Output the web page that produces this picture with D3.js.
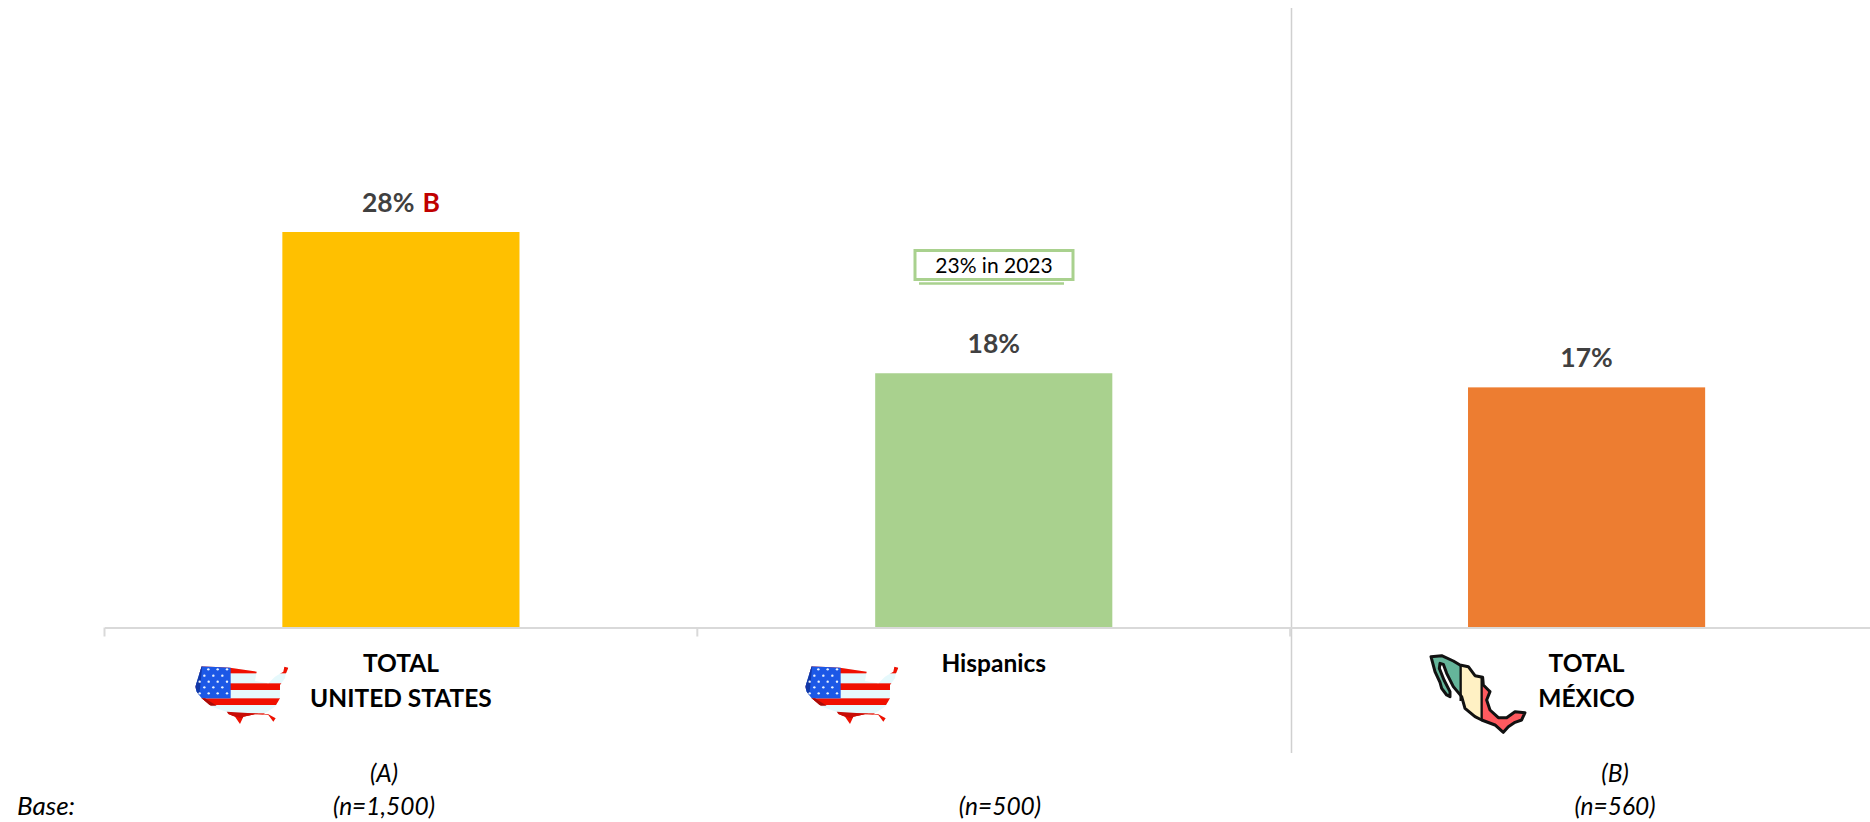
<!DOCTYPE html>
<html>
<head>
<meta charset="utf-8">
<script src="https://cdn.jsdelivr.net/npm/d3@7/dist/d3.min.js"></script>
<style>
  html, body { margin: 0; padding: 0; background: #fff; overflow: hidden; }
  svg { display: block; font-family: Lato, "Open Sans", sans-serif; }
</style>
</head>
<body>
<svg id="chart" width="1870" height="822"></svg>
<script>
// Share of respondents per group
const categories = ["us", "hispanics", "mexico"];
const values = [28, 18, 17];
const barColors = ["#ffc000", "#a9d18e", "#ed7d31"];
const categoryLines = [["TOTAL", "UNITED STATES"], ["Hispanics"], ["TOTAL", "MÉXICO"]];
const sigLetters = ["B", "", ""];
const groupLetters = ["(A)", "", "(B)"];
const baseSizes = ["(n=1,500)", "(n=500)", "(n=560)"];
const baseLabel = "Base:";
const priorNote = "23% in 2023";

const svg = d3.select("#chart");
const baseline = 627.5;

const x = d3.scaleBand().domain(categories).range([104.5, 1883]).paddingInner(0.6).paddingOuter(0.3);
const y = d3.scaleLinear().domain([0, 28]).range([baseline, 232]);
const center = c => x(c) + x.bandwidth() / 2;

// Column divider between the US groups and Mexico
svg.append("line")
  .attr("x1", 1291.5).attr("x2", 1291.5).attr("y1", 8).attr("y2", 753)
  .attr("stroke", "#d0d0d0").attr("stroke-width", 1.5);

// Bars
svg.selectAll("rect.bar").data(categories).join("rect")
  .attr("class", "bar")
  .attr("x", d => x(d))
  .attr("width", x.bandwidth())
  .attr("y", (d, i) => y(values[i]))
  .attr("height", (d, i) => baseline - y(values[i]))
  .attr("fill", (d, i) => barColors[i]);

// Category axis: line plus ticks on the band boundaries
const axis = svg.append("g").attr("transform", `translate(0,${baseline})`)
  .call(d3.axisBottom(x).tickSize(0).tickFormat(""));
axis.select(".domain").attr("stroke", "#d9d9d9").attr("stroke-width", 2);
axis.selectAll(".tick line").remove();
axis.selectAll("line.edge").data(categories).join("line")
  .attr("class", "edge")
  .attr("x1", d => x(d) - x.step() * 0.3).attr("x2", d => x(d) - x.step() * 0.3)
  .attr("y1", 0).attr("y2", 9)
  .attr("stroke", "#d9d9d9").attr("stroke-width", 2);

// Value labels with the significance letter
const valueLabels = svg.selectAll("text.value").data(categories).join("text")
  .attr("class", "value")
  .attr("x", d => center(d))
  .attr("y", (d, i) => y(values[i]) - 20)
  .attr("text-anchor", "middle")
  .attr("font-size", 26.5).attr("font-weight", 700).attr("fill", "#404040");
valueLabels.append("tspan").text((d, i) => values[i] + "%");
valueLabels.filter((d, i) => sigLetters[i]).append("tspan")
  .attr("dx", 8).attr("fill", "#c00000")
  .text((d) => sigLetters[categories.indexOf(d)]);

// Category names under the axis
svg.selectAll("text.cat").data(categories).join("text")
  .attr("class", "cat")
  .attr("text-anchor", "middle")
  .attr("font-size", 24.5).attr("font-weight", 700).attr("fill", "#000")
  .each(function (d, i) {
    d3.select(this).selectAll("tspan").data(categoryLines[i]).join("tspan")
      .attr("x", center(d))
      .attr("y", (t, k) => 672 + k * 35)
      .text(t => t);
  });

// Group letters and base sizes
const baseX = [384, 1000, 1615];
svg.selectAll("text.group").data(groupLetters).join("text")
  .attr("class", "group")
  .attr("x", (d, i) => baseX[i]).attr("y", 782)
  .attr("text-anchor", "middle")
  .attr("font-size", 24.5).attr("font-style", "italic").attr("fill", "#000")
  .text(d => d);
svg.selectAll("text.base").data(baseSizes).join("text")
  .attr("class", "base")
  .attr("x", (d, i) => baseX[i]).attr("y", 815)
  .attr("text-anchor", "middle")
  .attr("font-size", 24.5).attr("font-style", "italic").attr("fill", "#000")
  .text(d => d);
svg.append("text").attr("x", 17).attr("y", 815)
  .attr("font-size", 26).attr("font-style", "italic").attr("fill", "#000")
  .text(baseLabel);

// Prior-year callout above the Hispanics bar
svg.append("rect")
  .attr("x", 915).attr("y", 250.5).attr("width", 158).attr("height", 29)
  .attr("fill", "#fff").attr("stroke", "#a9d18e").attr("stroke-width", 3);
svg.append("line")
  .attr("x1", 919).attr("x2", 1064).attr("y1", 283.5).attr("y2", 283.5)
  .attr("stroke", "#a9d18e").attr("stroke-width", 2.5);
svg.append("text")
  .attr("x", 994).attr("y", 272.5).attr("text-anchor", "middle")
  .attr("font-size", 21).attr("fill", "#000")
  .text(priorNote);

// Flag-map icons, drawn in a 3x local grid
const defs = svg.append("defs");
const usOutline = "M50,34L135,38L215,50L210,78L250,85L270,65L295,50L298,35L310,38L302,58L300,70L285,90L285,130L270,155L235,178L250,178L272,190L265,200L250,180L210,178L175,185L165,207L150,185L130,177L125,170L80,155L50,130L35,110L31,95Z";
defs.append("clipPath").attr("id", "usClip").append("path").attr("d", usOutline);

function drawUsIcon(tx) {
  const g = svg.append("g").attr("transform", `translate(${tx},655) scale(${1 / 3})`);
  const art = g.append("g").attr("clip-path", "url(#usClip)");
  art.append("rect").attr("x", 0).attr("y", 0).attr("width", 340).attr("height", 230).attr("fill", "#e6f9fc");
  [[30, 55], [85, 105], [130, 150], [175, 215]].forEach(b => {
    art.append("rect").attr("x", 0).attr("y", b[0]).attr("width", 340).attr("height", b[1] - b[0]).attr("fill", "#f01000");
  });
  art.append("rect").attr("x", 0).attr("y", 30).attr("width", 137).attr("height", 100).attr("fill", "#1c58e6");
  art.append("path").attr("d", "M25,30L52,30L42,130L25,130Z").attr("fill", "#1238a8");
  art.append("path").attr("d", "M30,130L60,130L95,152L70,152Z").attr("fill", "#a80c08");
  art.append("path").attr("d", "M125,170L220,176L170,190L130,180Z").attr("fill", "#c80c06");
  [[43, [70, 98, 126]], [62, [58, 85, 112]], [80, [44, 71, 98, 126]], [97, [58, 85, 112]], [115, [44, 71, 98, 126]]]
    .forEach(row => row[1].forEach(cx => {
      art.append("circle").attr("cx", cx).attr("cy", row[0]).attr("r", 3.6).attr("fill", "#eaf4ff");
    }));
}
drawUsIcon(185);
drawUsIcon(795);

const mxOutline = "M33,35L65,32L100,48L120,60L145,65L165,92L188,97L190,120L205,135L210,140L200,165L210,195L235,218L260,218L285,200L315,203L305,225L285,232L265,245L250,262L225,240L185,225L165,215L135,190L125,155L100,125L80,85L70,58L60,55L58,70L72,105L90,140L90,155L80,150L65,130L60,112L45,80Z";
defs.append("clipPath").attr("id", "mxClip").append("path").attr("d", mxOutline);
const mx = svg.append("g").attr("transform", "translate(1420,645) scale(0.3333)");
const mxArt = mx.append("g").attr("clip-path", "url(#mxClip)");
[[0, 122, "#65b59a"], [122, 63, "#fff1c4"], [185, 160, "#ff5a5f"]].forEach(s => {
  mxArt.append("rect").attr("x", s[0]).attr("y", 0).attr("width", s[1]).attr("height", 290).attr("fill", s[2]);
});
mx.append("path").attr("d", "M122,62V168M185,97V225").attr("stroke", "#111").attr("stroke-width", 7).attr("fill", "none");
mx.append("path").attr("d", mxOutline).attr("fill", "none").attr("stroke", "#111")
  .attr("stroke-width", 9).attr("stroke-linejoin", "round");
</script>
</body>
</html>
